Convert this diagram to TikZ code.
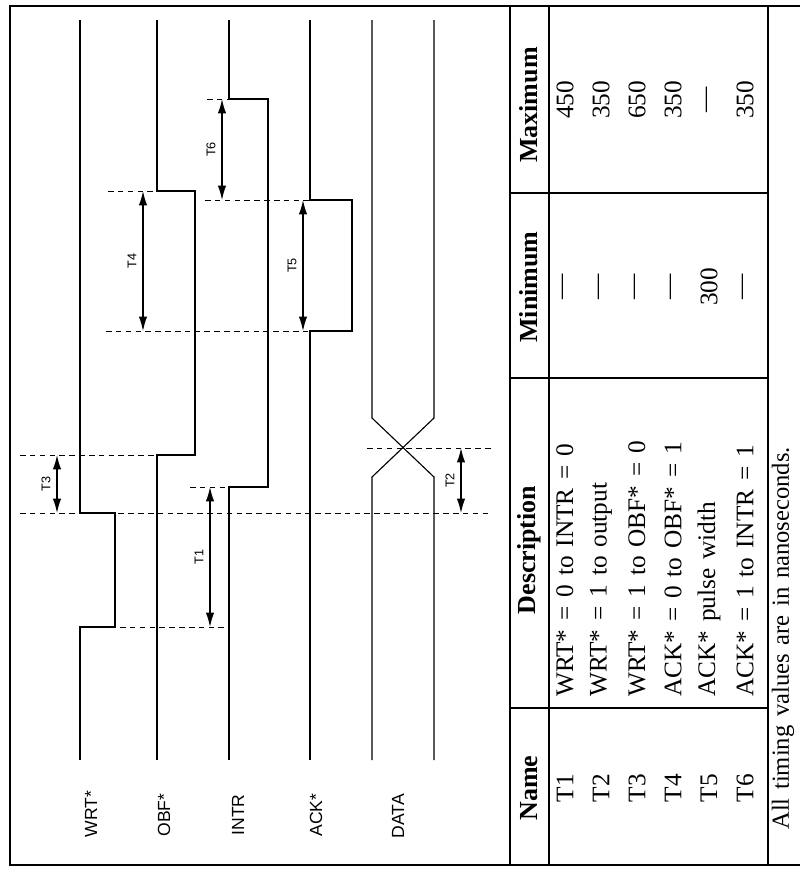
\documentclass[tikz,border=0pt]{standalone}
\usepackage{fontspec}
\setmainfont{Liberation Serif}
\setsansfont{Liberation Sans}
\newfontfamily\tablefont{Liberation Serif}[WordSpace=1.4, Ligatures=TeX]
\usetikzlibrary{arrows.meta,positioning}
\tikzset{
  frame-style/.style = {line width=0.9pt},
  wave-style/.style = {line width=0.8pt, line join=miter},
  guide-style/.style = {dash pattern=on 4pt off 3pt, line width=0.7pt},
  span-style/.style = {
    line width=0.9pt,
    {Latex[length=3.6mm,width=2.1mm]}-{Latex[length=3.6mm,width=2.1mm]}
  },
  span-label/.style = {font=\sffamily\fontsize{9}{10}\selectfont, rotate=90},
  signal-label/.style = {font=\sffamily\fontsize{12.5}{14}\selectfont, rotate=90},
  head-style/.style = {font=\bfseries\fontsize{18.5}{21}\selectfont, rotate=90},
  cell-style/.style = {font=\tablefont\fontsize{18}{20}\selectfont, rotate=90, inner sep=0pt},
  note-style/.style = {font=\fontsize{17.5}{20}\selectfont, rotate=90, inner sep=0pt}
}
\def\createSpan name:#1 at:#2 from:#3 to:#4;{
  \coordinate (#1-a) at (#2,#3);
  \coordinate (#1-b) at (#2,#4);
  \draw [span-style] (#1-a) -- (#1-b) coordinate [midway] (#1-m);
  \node [span-label] (#1-lbl) at ([xshift=-2.75mm]#1-m) {#1};
}
\begin{document}
\begin{tikzpicture}[x=0.25mm, y=-0.25mm]
  \useasboundingbox (0,0) rectangle (800,875);

  % page frame and table rules
  \draw [frame-style] (800,6) -- (10,6) -- (10,865) -- (800,865);
  \draw [frame-style] (510,6) -- (510,865);
  \draw [frame-style] (549,6) -- (549,865);
  \draw [frame-style] (768,6) -- (768,865);
  \draw [frame-style] (510,193) -- (768,193);
  \draw [frame-style] (510,378) -- (768,378);
  \draw [frame-style] (510,708) -- (768,708);

  % waveforms
  \draw [wave-style] (80,760) -- (80,627) -- (115,627) -- (115,513) -- (80,513) -- (80,20);
  \draw [wave-style] (157,760) -- (157,455) -- (195,455) -- (195,191) -- (157,191) -- (157,20);
  \draw [wave-style] (229,760) -- (229,487) -- (268,487) -- (268,99) -- (229,99) -- (229,20);
  \draw [wave-style] (310,760) -- (310,331) -- (352,331) -- (352,200) -- (310,200) -- (310,20);
  \draw [wave-style] (372,760) -- (372,477) -- (434,418) -- (434,20);
  \draw [wave-style] (434,760) -- (434,477) -- (372,418) -- (372,20);

  % signal names
  \node [signal-label] (wrt-lbl)  at (91,814)  {WRT*};
  \node [signal-label] (obf-lbl)  at (164,815) {OBF*};
  \node [signal-label] (intr-lbl) at (238,815) {INTR};
  \node [signal-label] (ack-lbl)  at (316,815) {ACK*};
  \node [signal-label] (data-lbl) at (398,816) {DATA};

  % timing guides
  \draw [guide-style] (207,99) -- (229,99);
  \draw [guide-style] (108,191) -- (157,191);
  \draw [guide-style] (205,200) -- (310,200);
  \draw [guide-style] (106,331) -- (310,331);
  \draw [guide-style] (20,455) -- (157,455);
  \draw [guide-style] (367,448) -- (492,448);
  \draw [guide-style] (190,487) -- (229,487);
  \draw [guide-style] (20,513) -- (490,513);
  \draw [guide-style] (120,627) -- (229,627);

  \createSpan name:T6 at:222 from:99 to:200;
  \createSpan name:T4 at:143 from:191 to:331;
  \createSpan name:T5 at:303 from:200 to:331;
  \createSpan name:T3 at:57 from:455 to:513;
  \createSpan name:T1 at:210 from:487 to:627;
  \createSpan name:T2 at:461 from:448 to:513;

  % table
  \node [head-style] (name-head) at (529,788) {Name};
  \node [head-style] (desc-head) at (529,550) {Description};
  \node [head-style] (min-head)  at (529,287) {Minimum};
  \node [head-style] (max-head)  at (529,105) {Maximum};
  \foreach \nm/\desc/\mn/\mx [count=\i] in {
      T1/{WRT* = 0 to INTR = 0}/---/450,
      T2/{WRT* = 1 to output}/---/350,
      T3/{WRT* = 1 to OBF* = 0}/---/650,
      T4/{ACK* = 0 to OBF* = 1}/---/350,
      T5/{ACK* pulse width}/300/---,
      T6/{ACK* = 1 to INTR = 1}/---/350}{
    \node [cell-style] (name-\i) at (529+36*\i,788) {\nm};
    \node [cell-style, anchor=west] (desc-\i) at (529+36*\i,697) {\desc};
    \node [cell-style] (min-\i) at (529+36*\i,287) {\mn};
    \node [cell-style] (max-\i) at (529+36*\i,100) {\mx};
  }
  \node [note-style, anchor=west] (note) at (783,830) {All timing values are in nanoseconds.};
\end{tikzpicture}
\end{document}
